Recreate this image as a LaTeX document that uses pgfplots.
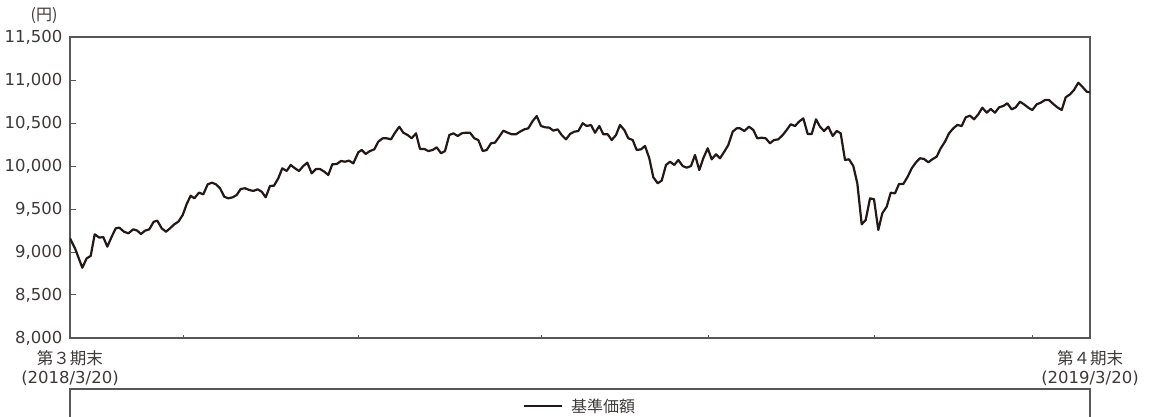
\documentclass[border=0pt]{standalone}
\usepackage{fontspec}
\setmainfont{DejaVu Sans}
\newfontfamily\jp{Noto Sans CJK JP}
\usepackage{pgfplots}
\usepackage{pgfplotstable}
\pgfplotsset{compat=1.18}
\definecolor{ink}{HTML}{231815}
\definecolor{txt}{HTML}{3E3A39}
\definecolor{frame}{HTML}{595757}

% x: position along the period (0 = 2018/3/20, 1020 = 2019/3/20), y: 基準価額 (円)
\pgfplotstableread{
x y
0 9159
5 9043
12.3 8817
16.7 8927
20.7 8954
24.7 9206
29.3 9167
33.3 9174
37.3 9062
41.7 9178
45.7 9275
49.3 9283
54 9236
58.3 9217
63.3 9264
67.3 9248
71 9209
75 9248
79.3 9264
83.7 9352
87.3 9364
91.7 9275
96 9236
100 9275
104.3 9322
108.3 9352
112.7 9430
116.7 9558
120.7 9655
124.3 9624
129 9690
133.3 9671
137.7 9787
142 9806
146 9787
150 9741
154.3 9643
158.3 9624
162.7 9636
166.7 9663
170.7 9733
175 9741
179.3 9721
183.3 9710
187.7 9729
191.7 9701
195.7 9636
200 9768
204 9771
208.3 9857
212.3 9973
216.7 9942
220.7 10012
225 9973
229 9942
233.3 10000
237.3 10039
241.7 9915
246 9965
250 9965
254.3 9934
258.3 9895
262.3 10020
266.7 10023
271 10058
275 10050
279 10062
283.3 10031
288.3 10159
291.7 10186
295.7 10140
300 10174
304.3 10194
308.3 10283
312.7 10322
316.7 10322
321 10310
325 10387
329.3 10457
333.3 10387
337.7 10360
341.7 10322
346 10380
350 10198
354.3 10198
358.3 10174
362.7 10186
366.7 10217
371 10148
375 10174
379.3 10360
383.3 10380
387.7 10349
391.7 10380
396 10387
400 10387
404.3 10322
408.3 10302
412.7 10174
416.7 10186
421 10264
425 10272
429.3 10341
433.3 10411
437.7 10387
441.7 10369
446 10369
450 10399
454.3 10426
458.3 10438
462.7 10523
466.7 10581
471 10465
475 10450
479.3 10446
483.3 10411
487.7 10426
491.7 10360
496 10310
500 10372
504.3 10399
508.3 10407
512.7 10497
516.7 10465
521 10477
525 10387
529.3 10465
533.3 10369
537.7 10369
541.7 10302
546 10360
550 10477
554.3 10419
558.3 10322
562.7 10302
566.7 10186
571 10194
575 10233
579.3 10090
583.3 9869
587.7 9799
591.7 9830
596 10012
600 10050
604.3 10012
608.3 10070
612.7 10000
616.7 9980
621 10000
625 10128
629.3 9953
633.3 10090
637.7 10206
641.7 10078
646 10136
650 10090
654.3 10167
658.3 10244
662.7 10399
666.7 10438
670 10438
674.3 10407
679 10457
683.3 10419
687.3 10322
691.7 10329
695.7 10322
700 10264
704 10302
708.3 10310
712.7 10360
716.7 10419
720.7 10485
725 10465
729 10515
733.3 10554
737.7 10372
741.7 10372
746 10543
750 10457
754 10407
758.3 10457
762.7 10349
766.7 10407
770.7 10380
775 10070
779 10078
783.3 10000
787.3 9799
791.7 9322
795.7 9372
800 9624
804 9613
808.3 9256
812.3 9450
816.7 9527
820.7 9690
825 9682
829 9791
833.3 9791
837.7 9876
841.7 9973
846 10043
850 10090
854 10082
858.3 10043
862.3 10078
866.7 10109
870.7 10206
875 10283
879 10380
883.3 10438
887.3 10477
891.7 10465
895.7 10566
900 10585
904 10543
908.3 10601
912.3 10678
916.7 10620
920.7 10663
925 10620
929 10682
933.3 10698
937.3 10729
941.7 10659
945.7 10682
950 10748
954 10717
958.3 10678
962.3 10651
966.7 10717
970.7 10736
975 10767
979 10767
983.3 10721
987.3 10682
991.7 10651
995.7 10799
1000 10833
1004 10884
1008.3 10969
1012.3 10922
1016.7 10864
1020 10857
}\nav

\begin{document}
\begin{tikzpicture}
\begin{axis}[
    scale only axis,
    width=1020pt, height=301pt,
    xmin=0, xmax=1020,
    ymin=8000, ymax=11500,
    ytick={8000,8500,...,11500},
    scaled y ticks=false,
    xtick={0,1020},
    xticklabels={{{\jp 第３期末}\\(2018/3/20)},{{\jp 第４期末}\\(2019/3/20)}},
    extra x ticks={113,288,471,638,804,962},
    extra x tick labels={},
    extra x tick style={major tick length=3pt},
    xtick pos=bottom, ytick pos=left,
    tick align=inside,
    major tick length=6pt,
    tick style={frame, line width=1pt},
    axis line style={frame, line width=1.2pt},
    tick label style={font=\fontsize{16.5}{19}\selectfont, text=txt},
    x tick label style={align=center, yshift=-9pt},
    y tick label style={xshift=-4pt},
    yticklabel={\pgfmathprintnumber[fixed, precision=0, 1000 sep={,}, assume math mode=true]{\tick}},
    legend style={at={(0.5,-0.2259)}, anchor=center, draw=none, fill=none,
        font=\fontsize{16}{19}\selectfont, text=txt},
    legend image code/.code={\draw[#1] (0pt,0pt) -- (38pt,0pt); \path (44pt,0pt);},
]
\addplot[ink, line width=2.2pt, line join=round, no markers] table[x=x, y=y] {\nav};
\addlegendentry{\jp 基準価額}
\end{axis}
\node[anchor=east, text=txt, font=\fontsize{16}{19}\selectfont]
    at ([xshift=-9pt, yshift=21pt]current axis.north west) {\jp (円)};
\draw[frame, line width=1.2pt] ([yshift=-51pt]current axis.south west)
    rectangle ([yshift=-140pt]current axis.south east);
\pgfresetboundingbox
\path (current axis.south west) ++(-70pt,-79pt) rectangle ++(1151pt,417pt);
\end{tikzpicture}
\end{document}
